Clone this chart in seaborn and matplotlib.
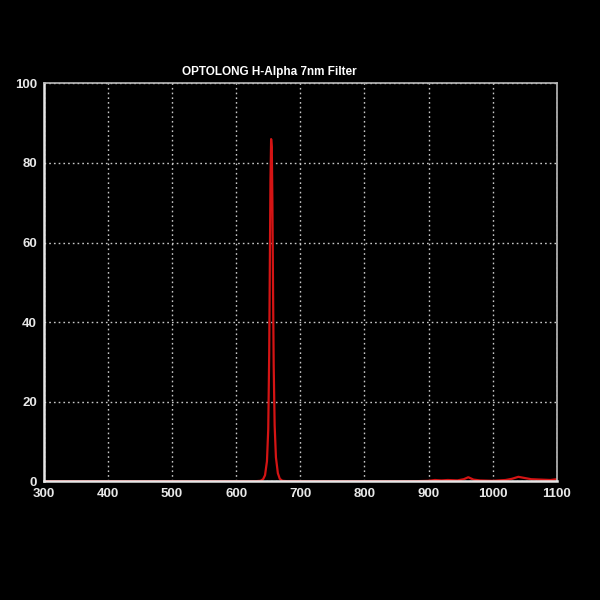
import seaborn as sns
import matplotlib.pyplot as plt
import pandas as pd

# wavelength (nm) and transmission (%)
wavelength = [300, 400, 500, 600, 630, 638, 642, 645, 648, 650, 651.5,
              652.5, 653.5, 654.5, 655.5, 656.5, 657.5, 658.5, 660, 662,
              665, 668, 672, 680, 700, 800, 880, 900, 910, 920, 930, 945,
              955, 962, 970, 980, 1000, 1020, 1030, 1040, 1050, 1060,
              1075, 1090, 1100]
transmission = [0, 0, 0, 0, 0, 0.1, 0.5, 1.5, 5.0, 13, 32,
                55, 76, 86, 84, 70, 48, 29, 14, 6.0,
                2.0, 0.6, 0.1, 0, 0, 0, 0, 0.1, 0.3, 0.2, 0.3, 0.2,
                0.5, 1.0, 0.4, 0.2, 0.1, 0.3, 0.6, 1.1, 0.8, 0.5,
                0.4, 0.3, 0.5]

x_ticks = [300, 400, 500, 600, 700, 800, 900, 1000, 1100]
y_ticks = [0, 20, 40, 60, 80, 100]
title = "OPTOLONG H-Alpha 7nm Filter"


def main():
    df = pd.DataFrame({"wavelength": wavelength,
                       "transmission": transmission})
    sns.set_style("dark")
    plt.rcParams['font.family'] = ['Liberation Sans', 'DejaVu Sans']

    fig = plt.figure(figsize=(6, 6), dpi=100, facecolor="black")
    ax = fig.add_axes([0.073, 0.198, 0.855, 0.663])
    ax.set_facecolor("black")

    sns.lineplot(data=df, x="wavelength", y="transmission", ax=ax,
                 color="#d41414", linewidth=1.6)

    ax.set_xlim(300, 1100)
    ax.set_ylim(0, 100)
    ax.set_xticks(x_ticks)
    ax.set_yticks(y_ticks)
    ax.grid(True, color="#c8c8c8", linestyle=(0, (1.2, 2.2)),
            linewidth=1.0)
    ax.set_axisbelow(True)
    for side in ["left", "bottom"]:
        ax.spines[side].set_color("#e8e8e8")
        ax.spines[side].set_linewidth(1.8)
    for side in ["top", "right"]:
        ax.spines[side].set_color("#bbbbbb")
        ax.spines[side].set_linewidth(1.2)
        ax.spines[side].set_visible(True)
    ax.tick_params(direction="in", length=5, width=1.5, color="#e8e8e8",
                   labelcolor="#e8e8e8", labelsize=9.5, pad=5)
    for lbl in ax.get_xticklabels() + ax.get_yticklabels():
        lbl.set_fontweight("bold")
    ax.set_xlabel("")
    ax.set_ylabel("")

    fig.text(269 / 600, 1 - 72 / 600, title, color="white",
             fontsize=8.5, fontweight="bold", ha="center", va="center")

    fig.savefig("out.png", dpi=100, facecolor="black")


if __name__ == "__main__":
    main()
